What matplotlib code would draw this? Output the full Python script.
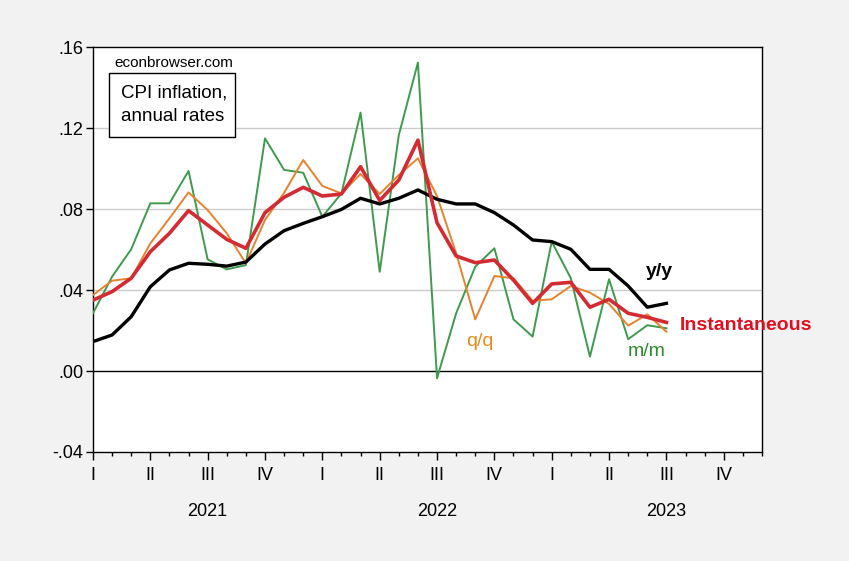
import matplotlib.pyplot as plt
import numpy as np
from matplotlib.ticker import FixedLocator, MultipleLocator
from matplotlib.patches import Rectangle

plt.rcParams['font.family'] = ['Liberation Sans', 'DejaVu Sans']

# monthly, Jan 2021 .. Jul 2023
yoy = [0.0145, 0.0178, 0.0268, 0.0416, 0.0499, 0.0532, 0.0527, 0.0518, 0.0538, 0.0627,
       0.0693, 0.0729, 0.0762, 0.0798, 0.0853, 0.0825, 0.0853, 0.0894, 0.0848, 0.0825,
       0.0825, 0.0782, 0.0721, 0.0647, 0.0639, 0.0601, 0.0502, 0.0502, 0.0420, 0.0315,
       0.0334]
inst = [0.0350, 0.0392, 0.0458, 0.0589, 0.0680, 0.0792, 0.0721, 0.0650, 0.0606, 0.0782,
        0.0858, 0.0907, 0.0864, 0.0874, 0.1009, 0.0842, 0.0943, 0.1140, 0.0732, 0.0568,
        0.0535, 0.0548, 0.0449, 0.0334, 0.0430, 0.0438, 0.0315, 0.0354, 0.0285, 0.0265,
        0.0240]
qoq = [0.0375, 0.0446, 0.0458, 0.0630, 0.0754, 0.0882, 0.0795, 0.0680, 0.0532, 0.0746,
       0.0880, 0.1042, 0.0914, 0.0877, 0.0973, 0.0874, 0.0968, 0.1050, 0.0864, 0.0581,
       0.0255, 0.0469, 0.0458, 0.0347, 0.0354, 0.0420, 0.0387, 0.0331, 0.0224, 0.0280,
       0.0194]
mom = [0.0285, 0.0466, 0.0601, 0.0828, 0.0828, 0.0988, 0.0551, 0.0502, 0.0523, 0.1149,
       0.0993, 0.0979, 0.0762, 0.0877, 0.1276, 0.0490, 0.1165, 0.1523, -0.0036, 0.0285,
       0.0515, 0.0606, 0.0255, 0.0170, 0.0639, 0.0458, 0.0071, 0.0453, 0.0157, 0.0226,
       0.0211]

quarters = ['I', 'II', 'III', 'IV'] * 3
years = ['2021', '2022', '2023']
yticks = [-0.04, 0.0, 0.04, 0.08, 0.12, 0.16]
ylabels = ['-.04', '.00', '.04', '.08', '.12', '.16']

t = np.arange(len(yoy))

fig = plt.figure(figsize=(8.49, 5.61), dpi=100, facecolor='#f2f2f2')
ax = fig.add_axes([0.1095, 0.1943, 0.788, 0.7219])
ax.set_facecolor('white')

ax.plot(t, mom, color='#3e9a4c', lw=1.4, zorder=3)
ax.plot(t, qoq, color='#e6822e', lw=1.4, zorder=4)
ax.plot(t, yoy, color='black', lw=2.4, zorder=5)
ax.plot(t, inst, color='#d42a32', lw=2.6, zorder=6)

ax.axhline(0, color='black', lw=1.0, zorder=2)
for v in yticks[2:-1]:
    ax.axhline(v, color='#cccccc', lw=1.0, zorder=1)

ax.set_xlim(0, 35)
ax.set_ylim(-0.04, 0.16)
ax.set_yticks(yticks)
ax.set_yticklabels(ylabels)
ax.xaxis.set_major_locator(FixedLocator(np.arange(0, 36, 3)))
ax.xaxis.set_minor_locator(MultipleLocator(1))
ax.set_xticklabels(quarters)
ax.tick_params(axis='x', which='major', length=6, width=1, labelsize=13, pad=5)
ax.tick_params(axis='x', which='minor', length=3, width=1)
ax.tick_params(axis='y', which='major', length=5, width=1, labelsize=13, pad=2)
for s in ax.spines.values():
    s.set_linewidth(1.0)

trans = ax.get_xaxis_transform()
for k, yr in enumerate(years):
    ax.text(6 + 12 * k, -0.146, yr, transform=trans, ha='center', va='center', fontsize=13)

ax.text(1.1, 0.152, 'econbrowser.com', fontsize=11, va='center', ha='left')
ax.add_patch(Rectangle((0.85, 0.1155), 6.6, 0.0318, facecolor='white', edgecolor='black',
                       lw=1.0, zorder=7))
ax.text(1.45, 0.1315, 'CPI inflation,\nannual rates', fontsize=13.5, va='center', ha='left',
        linespacing=1.5, zorder=8)

ax.text(28.9, 0.049, 'y/y', fontsize=14, fontweight='bold', color='black', va='center')
ax.text(30.7, 0.0223, 'Instantaneous', fontsize=14, fontweight='bold', color='#e0101e',
        va='center', clip_on=False)
ax.text(19.5, 0.0148, 'q/q', fontsize=14, color='#e68a1a', va='center')
ax.text(28.0, 0.0094, 'm/m', fontsize=14, color='#2e8b2e', va='center')

fig.savefig('out.png', dpi=100, facecolor=fig.get_facecolor())
